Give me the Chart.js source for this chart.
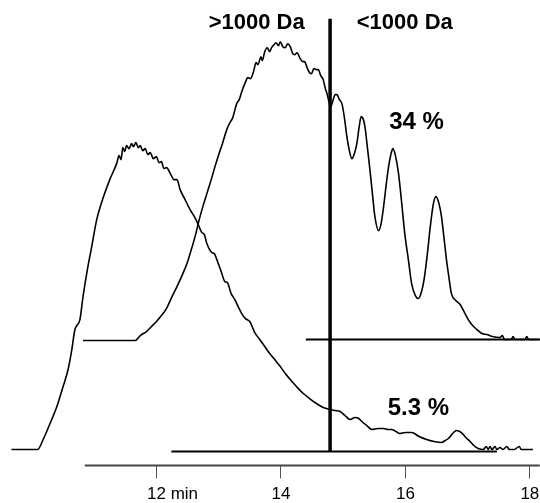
<!DOCTYPE html>
<html>
<head>
<meta charset="utf-8">
<script src="https://cdn.jsdelivr.net/npm/chart.js@4.4.1/dist/chart.umd.min.js"></script>
<style>
  html, body { margin: 0; padding: 0; background: #fff; overflow: hidden; }
  #wrap { width: 540px; height: 503px; }
</style>
</head>
<body>
<div id="wrap"><canvas id="chartGPC"></canvas></div>
<script>
const timeA = [9.67, 10.09, 10.18, 10.29, 10.40, 10.50, 10.58, 10.64, 10.69, 10.77, 10.82, 10.89, 10.96, 11.04, 11.15, 11.25,
  11.36, 11.40, 11.43, 11.46, 11.49, 11.52, 11.56, 11.60, 11.63, 11.67, 11.71, 11.74, 11.78, 11.82, 11.86, 11.90, 11.95,
  12.00, 12.04, 12.08, 12.12, 12.16, 12.24, 12.28, 12.33, 12.38, 12.46, 12.54, 12.60, 12.65, 12.73, 12.77, 12.81, 12.89,
  12.93, 12.97, 13.04, 13.10, 13.14, 13.20, 13.26, 13.32, 13.37, 13.43, 13.50, 13.58, 13.66, 13.74, 13.82, 13.90, 13.99,
  14.07, 14.15, 14.25, 14.36, 14.46, 14.57, 14.68, 14.79, 14.87, 14.95, 15.03, 15.11, 15.19, 15.25, 15.30, 15.38, 15.46,
  15.56, 15.65, 15.72, 15.78, 15.85, 15.91, 16.00, 16.10, 16.22, 16.34, 16.46, 16.58, 16.64, 16.69, 16.76, 16.82, 16.90,
  16.97, 17.04, 17.10, 17.17, 17.25, 17.30, 17.33, 17.36, 17.39, 17.44, 17.47, 17.52, 17.57, 17.63, 17.67, 17.75, 17.83,
  17.86, 18.05];
const signalA = [16, 16, 26, 42, 59, 79, 96, 116, 136, 146, 169, 196, 219, 246, 269, 286,
  302, 310, 306, 318, 314, 320, 317, 322, 319, 323, 318, 320, 315, 317, 311, 313, 307,
  309, 303, 304, 297, 298, 290, 286, 286, 276, 266, 256, 250, 244, 233, 231, 222, 213,
  212, 206, 194, 184, 183, 172, 166, 158, 152, 147, 144, 133, 126, 119, 112, 106, 99,
  92, 86, 79, 72, 67, 62, 58, 56, 55, 54, 50, 46, 48, 47, 44, 40, 36,
  37, 37, 36, 36, 34, 32, 33, 33, 29, 26, 24, 23, 25, 27, 32, 35, 33,
  28, 24, 20, 17, 16, 19, 16, 19, 16, 19, 16, 18, 16, 19, 16, 16, 19,
  16, 16];

const timeB = [10.82, 11.66, 11.74, 11.84, 11.92, 12.00, 12.08, 12.16, 12.25, 12.33, 12.41, 12.49, 12.56, 12.62, 12.70,
  12.76, 12.81, 12.88, 12.94, 13.00, 13.06, 13.13, 13.18, 13.22, 13.29, 13.33, 13.37, 13.42, 13.47, 13.51, 13.56, 13.60,
  13.63, 13.68, 13.70, 13.74, 13.78, 13.82, 13.85, 13.89, 13.92, 13.96, 13.99, 14.03, 14.07, 14.11, 14.15, 14.19, 14.22,
  14.26, 14.31, 14.35, 14.38, 14.42, 14.46, 14.49, 14.53, 14.57, 14.60, 14.64, 14.68, 14.71, 14.74, 14.78, 14.80, 14.84,
  14.87, 14.90, 14.94, 14.98, 15.02, 15.06, 15.10, 15.14, 15.18, 15.22, 15.26, 15.29, 15.32, 15.35, 15.39, 15.43, 15.47,
  15.51, 15.57, 15.61, 15.65, 15.69, 15.73, 15.77, 15.80, 15.84, 15.89, 15.94, 15.99, 16.05, 16.10, 16.16, 16.21, 16.26,
  16.30, 16.35, 16.40, 16.45, 16.49, 16.54, 16.58, 16.62, 16.66, 16.70, 16.74, 16.81, 16.88, 16.95, 17.01, 17.08, 17.15,
  17.23, 17.31, 17.40, 17.52, 17.56, 17.59, 17.70, 17.73, 17.76, 17.92, 17.95, 17.98, 18.16];
const signalB = [125, 125, 130, 134, 139, 144, 150, 157, 169, 179, 190, 202, 216, 229, 249,
  262, 272, 286, 299, 311, 322, 336, 343, 347, 362, 366, 374, 382, 388, 387, 394, 403,
  401, 409, 405, 414, 418, 414, 418, 421, 423, 420, 424, 419, 418, 422, 419, 412, 411,
  413, 407, 404, 404, 398, 393, 392, 397, 396, 396, 390, 386, 378, 372, 362, 359, 366,
  371, 371, 366, 362, 348, 329, 315, 307, 312, 322, 340, 349, 347, 339, 318, 296, 272,
  249, 235, 242, 259, 280, 299, 312, 317, 310, 292, 263, 232, 205, 182, 170, 167, 174,
  186, 210, 239, 262, 269, 262, 249, 228, 206, 188, 172, 165, 161, 153, 146, 140, 136,
  132, 131, 129, 128, 130, 126, 126, 129, 126, 126, 129, 126, 126];

// lineas base y corte de 1000 Da
const baseLowTime = [12.24, 17.47];
const baseLowSignal = [14, 14];
const baseHighTime = [14.40, 18.16];
const baseHighSignal = [126, 126];
const cutTime = [14.79, 14.79];
const cutSignal = [14, 447];
const axisTime = [10.85, 18.16];
const axisSignal = [0, 0];

const xTicks = [12, 14, 16, 18];
const xUnit = 'min';
const labelTexts = ['>1000 Da', '<1000 Da', '34 %', '5.3 %'];

// posiciones de los textos (en coordenadas de datos, linea base del texto)
const labelSpots = [
  { t: 13.61, v: 437, size: 22 },
  { t: 15.99, v: 437, size: 22 },
  { t: 16.18, v: 337, size: 24 },
  { t: 16.21, v: 51, size: 24 }
];

const TICK_LEN = 13;
const TICK_PAD = 7.5;
const TICK_FONT = 17;

function toPoints(xs, ys) {
  return xs.map((x, i) => ({ x, y: ys[i] }));
}

const lineDs = (data, width, extra) => Object.assign({
  data,
  borderColor: '#000',
  borderWidth: width,
  pointRadius: 0,
  fill: false,
  tension: 0
}, extra || {});

const textPlugin = {
  id: 'textos',
  afterDraw(chart) {
    const { ctx, scales } = chart;
    const xs = scales.x, ys = scales.y;
    ctx.save();
    ctx.fillStyle = '#000';
    ctx.textBaseline = 'alphabetic';
    ctx.textAlign = 'center';
    labelTexts.forEach((txt, i) => {
      const s = labelSpots[i];
      ctx.font = `bold ${s.size}px "Liberation Sans", Arial, sans-serif`;
      ctx.fillText(txt, xs.getPixelForValue(s.t), ys.getPixelForValue(s.v));
    });
    // unidad al lado del primer tick
    ctx.font = `${TICK_FONT}px "Liberation Sans", Arial, sans-serif`;
    const first = String(xTicks[0]);
    const w = ctx.measureText(first).width;
    ctx.textAlign = 'left';
    ctx.textBaseline = 'middle';
    const y = xs.top + TICK_LEN + TICK_PAD + TICK_FONT / 2;
    ctx.fillText(' ' + xUnit, xs.getPixelForValue(xTicks[0]) + w / 2, y);
    ctx.restore();
  }
};

new Chart(document.getElementById('chartGPC'), {
  type: 'line',
  data: {
    datasets: [
      lineDs(toPoints(timeA, signalA), 1.6, { cubicInterpolationMode: 'monotone' }),
      lineDs(toPoints(timeB, signalB), 1.6, { cubicInterpolationMode: 'monotone' }),
      lineDs(toPoints(baseLowTime, baseLowSignal), 2),
      lineDs(toPoints(baseHighTime, baseHighSignal), 2),
      lineDs(toPoints(cutTime, cutSignal), 3.5),
      lineDs(toPoints(axisTime, axisSignal), 2, { borderColor: '#444', clip: false })
    ]
  },
  options: {
    responsive: true,
    maintainAspectRatio: false,
    animation: false,
    layout: { padding: 0 },
    plugins: { legend: { display: false }, tooltip: { enabled: false } },
    scales: {
      x: {
        type: 'linear',
        min: 9.486,
        max: 18.163,
        border: { display: false },
        grid: { drawOnChartArea: false, drawTicks: true, tickLength: TICK_LEN, color: '#555', lineWidth: 1 },
        ticks: {
          padding: TICK_PAD,
          color: '#000',
          maxRotation: 0,
          font: { family: '"Liberation Sans", Arial, sans-serif', size: TICK_FONT, lineHeight: 1 },
          callback: (v) => String(v)
        },
        afterBuildTicks: (scale) => { scale.ticks = xTicks.map(v => ({ value: v })); },
        afterFit: (scale) => {
          scale.paddingLeft = 0;
          scale.paddingRight = 0;
          scale.height = TICK_LEN + TICK_PAD + TICK_FONT;
        }
      },
      y: { display: false, min: 0, max: 465.7 }
    }
  },
  plugins: [textPlugin]
});
</script>
</body>
</html>
